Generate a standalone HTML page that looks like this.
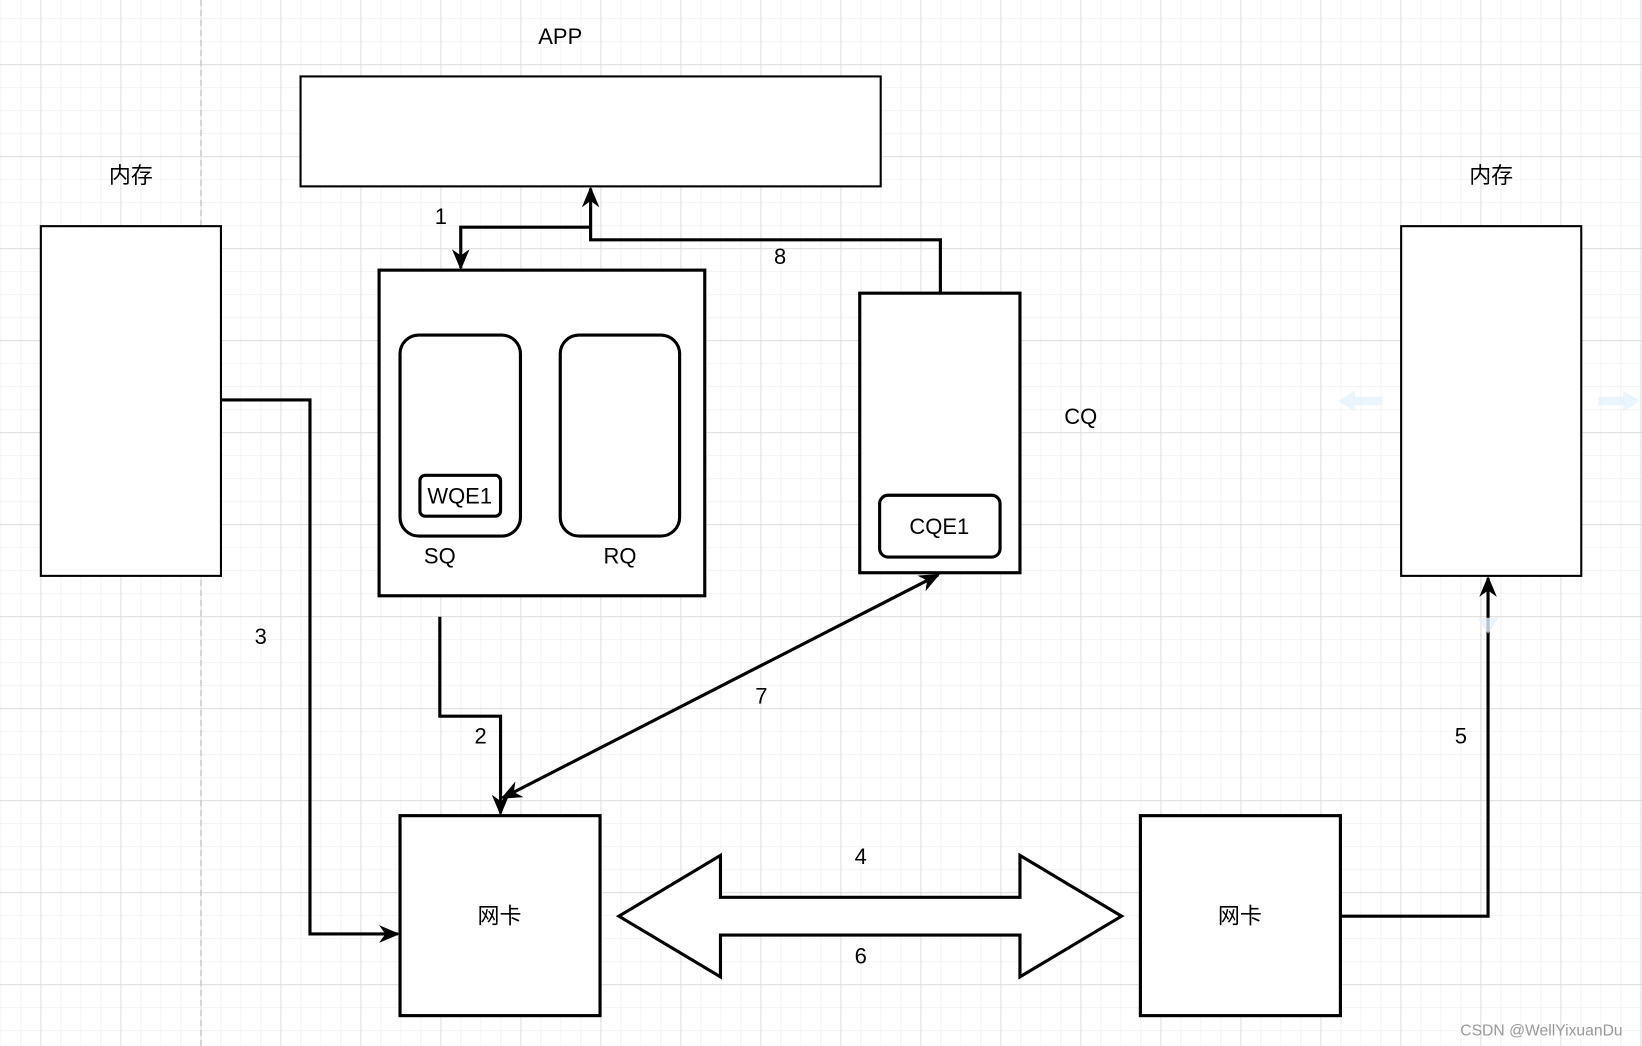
<!DOCTYPE html>
<html><head><meta charset="utf-8"><style>
html,body{margin:0;padding:0;background:#fff;}
svg{position:absolute;left:0;top:0;}
text{font-family:"Liberation Sans","Noto Sans CJK SC",sans-serif;font-size:21px;fill:#000;}
</style></head><body>
<svg width="1642" height="1046" viewBox="0 0 1642 1046">
<defs>
<pattern id="mi" x="0.6" y="18.4" width="20" height="23" patternUnits="userSpaceOnUse">
<path d="M0 0V23M0 0H20" stroke="#ececec" stroke-width="1.3" fill="none"/></pattern>
<pattern id="ma" x="40.6" y="64.3" width="80" height="92" patternUnits="userSpaceOnUse">
<path d="M0 0V92M0 0H80" stroke="#d0d0d0" stroke-width="1.3" fill="none"/></pattern>
</defs>
<rect width="1642" height="1046" fill="url(#mi)"/>
<rect width="1642" height="1046" fill="url(#ma)"/>
<line x1="201" y1="0" x2="201" y2="1046" stroke="#c8c8c8" stroke-width="1.5" stroke-dasharray="6,4"/>
</svg>
<svg width="1642" height="1046" viewBox="0 0 1568 999" preserveAspectRatio="none">
<defs>
<marker id="arb" viewBox="0 0 10 10" refX="9" refY="5" markerWidth="20" markerHeight="20" markerUnits="userSpaceOnUse" orient="auto-start-reverse">
<path d="M0 0.8L10 5L0 9.2L3 5Z" fill="#000"/></marker>
</defs>
<g fill="#fff" stroke="#000">
<rect x="287" y="73" width="554" height="105" stroke-width="2"/>
<rect x="39" y="216" width="172" height="334" stroke-width="2"/>
<rect x="1338" y="216" width="172" height="334" stroke-width="2"/>
<rect x="362" y="258" width="311" height="311" stroke-width="3"/>
<rect x="382" y="320" width="115" height="192" rx="18" stroke-width="3"/>
<rect x="535" y="320" width="114" height="192" rx="18" stroke-width="3"/>
<rect x="401" y="454" width="77" height="39" rx="5" stroke-width="3"/>
<rect x="821" y="280" width="153" height="267" stroke-width="3"/>
<rect x="840" y="473" width="115" height="59" rx="8" stroke-width="3"/>
<rect x="382" y="779" width="191" height="191" stroke-width="3"/>
<rect x="1089" y="779" width="191" height="191" stroke-width="3"/>
<path d="M591 875L688 817L688 857L974 857L974 817L1071 875L974 933L974 893L688 893L688 933Z" stroke-width="3"/>
</g>
<g fill="none" stroke="#000" stroke-width="3">
<path d="M564 217H440V256" marker-end="url(#arb)"/>
<path d="M898 280V229H564V180" marker-end="url(#arb)"/>
<path d="M211 382H296V892H380" marker-end="url(#arb)"/>
<path d="M420 589V684H478V777" marker-end="url(#arb)"/>
<path d="M480 762L896 549" marker-start="url(#arb)" marker-end="url(#arb)"/>
<path d="M1280 875H1421V552" marker-end="url(#arb)"/>
</g>
<g fill="#e3f1fb" opacity="0.8">
<path d="M1278 383L1294 373V379H1320V387H1294V393Z"/>
<path d="M1566 383L1550 373V379H1526V387H1550V393Z"/>
<path d="M1421 605L1411 590H1431Z"/>
</g>
<g text-anchor="middle">
<text x="535" y="42">APP</text>
<text x="125" y="175">内存</text>
<text x="1424" y="175">内存</text>
<text x="439" y="481">WQE1</text>
<text x="420" y="538">SQ</text>
<text x="592" y="538">RQ</text>
<text x="897" y="510">CQE1</text>
<text x="1032" y="405">CQ</text>
<text x="477" y="882">网卡</text>
<text x="1184" y="882">网卡</text>
<text x="421" y="214">1</text>
<text x="745" y="252">8</text>
<text x="249" y="615">3</text>
<text x="459" y="710">2</text>
<text x="727" y="672">7</text>
<text x="1395" y="710">5</text>
<text x="822" y="825">4</text>
<text x="822" y="920">6</text>
<text x="1472" y="989" style="font-size:15px;fill:#999">CSDN @WellYixuanDu</text>
</g>
</svg>
</body></html>
